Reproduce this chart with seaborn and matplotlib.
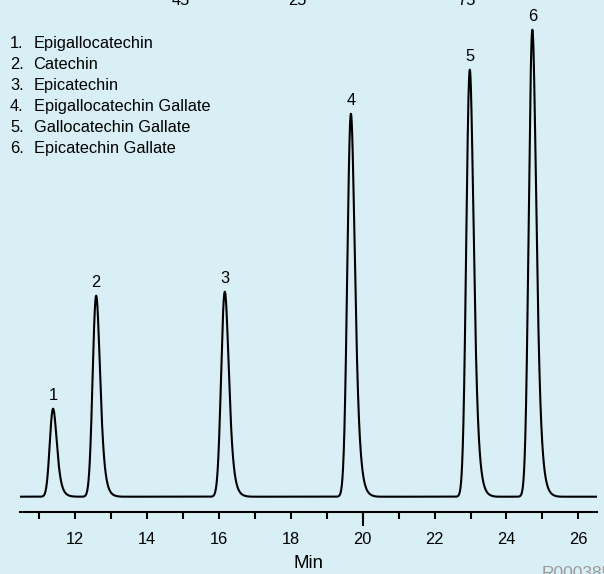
import numpy as np
import pandas as pd
import matplotlib
matplotlib.use("Agg")
import matplotlib.pyplot as plt
import seaborn as sns

# ---- data ----
peak_numbers = [1, 2, 3, 4, 5, 6]
compound_names = ["Epigallocatechin", "Catechin", "Epicatechin",
                  "Epigallocatechin Gallate", "Gallocatechin Gallate",
                  "Epicatechin Gallate"]
retention_times = [11.38, 12.58, 16.16, 19.67, 22.98, 24.72]   # min
peak_heights = [88, 201, 205, 383, 427, 467]                   # detector response (arb.)
peak_sigma = [0.080, 0.085, 0.088, 0.086, 0.084, 0.086]        # min
peak_tau = [0.085, 0.085, 0.088, 0.090, 0.088, 0.090]          # min (tailing)
time_range = [10.46, 26.52]
tick_values = list(range(11, 27))
tick_labels = [str(v) if v % 2 == 0 else "" for v in tick_values]
clipped_top_labels = ["45", "25", "75"]
watermark = "R000385"

# ---- build trace from peak table ----
dt = 0.002
t = np.arange(time_range[0], time_range[1] + dt, dt)
u = np.arange(-1.0, 2.0, dt)
signal = np.zeros_like(t)
for tr, h, s, tau in zip(retention_times, peak_heights, peak_sigma, peak_tau):
    g = np.exp(-0.5 * (u / s) ** 2)
    k = np.exp(-np.arange(0, 8 * tau, dt) / tau)
    shape = np.convolve(g, k)[: len(u)]
    shape /= shape.max()
    u_max = u[np.argmax(shape)]
    signal += h * np.interp(t - tr + u_max, u, shape, left=0, right=0)
df = pd.DataFrame({"Min": t, "Signal": signal})

# ---- styling ----
bg = "#d9eff6"
sns.set_theme(style="white", rc={"figure.facecolor": bg, "axes.facecolor": bg})
plt.rcParams["font.family"] = ["Liberation Sans", "DejaVu Sans"]
FS = 11.8

W, H = 604, 574
fig = plt.figure(figsize=(W / 100, H / 100), dpi=100)
ax = fig.add_axes([20 / W, (H - 512.3) / H, 577 / W, 512.3 / H])
ax.set_facecolor(bg)

sns.lineplot(data=df, x="Min", y="Signal", ax=ax, color="black",
             linewidth=1.5, estimator=None, sort=False)

ax.set_xlim(*time_range)
ax.set_ylim(-15.6, 496.7)
for side in ["left", "right", "top"]:
    ax.spines[side].set_visible(False)
ax.spines["bottom"].set_color("black")
ax.spines["bottom"].set_linewidth(1.5)
ax.set_yticks([])
ax.set_ylabel("")

ax.set_xticks(tick_values)
ax.set_xticklabels(tick_labels)
ax.set_xticks([20], minor=True)
ax.xaxis.remove_overlapping_locs = False
ax.tick_params(axis="x", which="major", direction="out", length=5, width=1.5,
               color="black", pad=9, labelsize=FS, labelcolor="black", bottom=True)
ax.tick_params(axis="x", which="minor", direction="out", length=10, width=1.5,
               color="black", bottom=True)
ax.set_xlabel("Min", fontsize=13.4, color="black", labelpad=6)

# peak number labels
for n, tr, h in zip(peak_numbers, retention_times, peak_heights):
    ax.annotate(str(n), (tr, h), xytext=(0, 6.5), textcoords="offset points",
                ha="center", va="baseline", fontsize=FS, color="black")

# compound list
baselines = [48.3, 68.8, 89.8, 111.0, 131.8, 152.8]
for n, name, yb in zip(peak_numbers, compound_names, baselines):
    fig.text(10 / W, 1 - yb / H, f"{n}.", ha="left", va="baseline",
             fontsize=FS, color="black")
    fig.text(33.5 / W, 1 - yb / H, name, ha="left", va="baseline",
             fontsize=FS, color="black")

# clipped text fragments at the top edge (cut off in the original too)
for lab, xp in zip(clipped_top_labels, [181, 297.5, 466.7]):
    fig.text(xp / W, 1 - 5 / H, lab, ha="center", va="baseline",
             fontsize=FS, color="black")

# watermark (clipped at bottom)
fig.text(542 / W, 1 - 566.5 / H, watermark, ha="left", va="top",
         fontsize=12.5, color="#9a9a9a")

fig.savefig("out.png", dpi=100, facecolor=bg)
